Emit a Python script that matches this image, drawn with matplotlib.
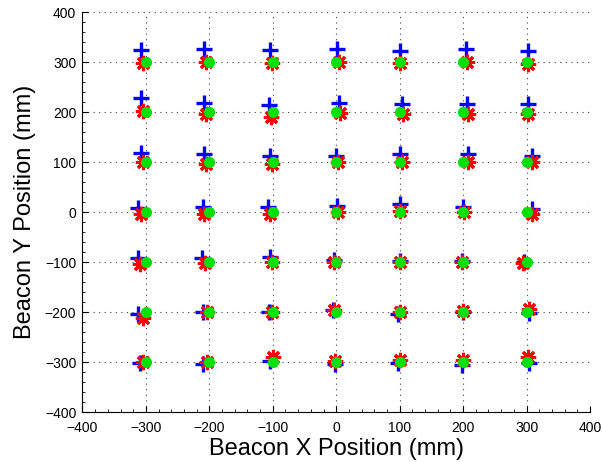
import numpy as np
import matplotlib
matplotlib.use("Agg")
import matplotlib.pyplot as plt
from matplotlib.ticker import MultipleLocator

# true beacon grid (green dots)
grid_x = [-300, -200, -100, 0, 100, 200, 300]
grid_y = [300, 200, 100, 0, -100, -200, -300]

# blue "+" estimates, one row per grid_y, columns follow grid_x
blue_x = [
    [-308, -208, -105, 1, 101, 205, 303],
    [-308, -208, -106, 4, 104, 206, 303],
    [-308, -209, -104, 0, 101, 207, 308],
    [-312, -210, -107, 1, 100, 200, 308],
    [-313, -212, -105, -3, 100, 199, 296],
    [-313, -210, -106, -5, 98, 200, 304],
    [-310, -210, -104, -2, 98, 199, 304],
]
blue_y = [
    [325, 327, 325, 327, 323, 327, 323],
    [228, 218, 215, 218, 217, 217, 217],
    [119, 117, 113, 113, 117, 117, 113],
    [8, 10, 10, 12, 17, 10, 7],
    [-91, -91, -89, -95, -97, -97, -100],
    [-203, -200, -200, -195, -203, -200, -201],
    [-302, -303, -297, -304, -302, -305, -302],
]

# red "*" estimates
red_x = [
    [-305, -205, -102, 4, 101, 206, 302],
    [-305, -205, -103, 6, 105, 207, 302],
    [-305, -205, -101, 2, 104, 208, 308],
    [-308, -208, -105, 3, 101, 202, 308],
    [-309, -207, -101, -3, 101, 199, 294],
    [-305, -204, -101, -3, 100, 200, 304],
    [-305, -204, -100, -2, 100, 200, 302],
]
red_y = [
    [298, 301, 299, 300, 298, 300, 297],
    [203, 197, 191, 198, 197, 197, 197],
    [100, 97, 97, 100, 100, 100, 100],
    [-4, -3, -3, 0, 3, 0, -3],
    [-103, -102, -100, -100, -100, -100, -102],
    [-211, -200, -200, -195, -200, -197, -193],
    [-300, -300, -290, -298, -295, -295, -289],
]

gx, gy = np.meshgrid(grid_x, grid_y)

fig = plt.figure(figsize=(6.03, 4.62), dpi=100)
ax = fig.add_axes([0.1368, 0.108, 0.8416, 0.866])

ax.plot(np.ravel(blue_x), np.ravel(blue_y), linestyle="none", marker="+",
        color="#0000ff", markersize=12, markeredgewidth=2.4)
ax.plot(np.ravel(red_x), np.ravel(red_y), linestyle="none", marker=(8, 2, 0),
        color="#ff0000", markersize=11, markeredgewidth=2.2)
ax.plot(gx.ravel(), gy.ravel(), linestyle="none", marker="o",
        color="#00e000", markeredgecolor="#00e000", markersize=7)

ax.set_xlim(-400, 400)
ax.set_ylim(-400, 400)
ax.xaxis.set_major_locator(MultipleLocator(100))
ax.yaxis.set_major_locator(MultipleLocator(100))
ax.xaxis.set_minor_locator(MultipleLocator(20))
ax.yaxis.set_minor_locator(MultipleLocator(20))
ax.grid(True, which="major", linestyle=(0, (1, 4)), color="#404040", linewidth=0.8)

for side in ["top", "right"]:
    ax.spines[side].set_visible(False)
ax.spines["left"].set_linewidth(0.8)
ax.spines["bottom"].set_linewidth(0.8)
ax.tick_params(which="both", direction="in", top=False, right=False, labelsize=10)
ax.tick_params(axis="x", which="major", pad=6.5)
ax.tick_params(axis="y", which="major", pad=4.5)
ax.tick_params(which="major", length=4)
ax.tick_params(which="minor", length=2)
for lbl in ax.get_xticklabels() + ax.get_yticklabels():
    lbl.set_family("Liberation Sans")

ax.set_xlabel("Beacon X Position (mm)", fontsize=17, family="Liberation Sans", labelpad=2)
ax.set_ylabel("Beacon Y Position (mm)", fontsize=17, family="Liberation Sans", labelpad=6)

fig.savefig("out.png", dpi=100)
